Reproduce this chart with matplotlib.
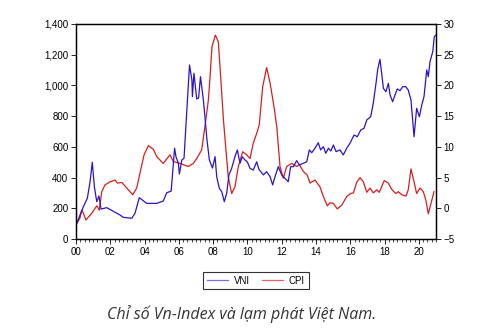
import numpy as np
import matplotlib
matplotlib.use("Agg")
import matplotlib.pyplot as plt
from matplotlib.ticker import FuncFormatter, MultipleLocator

# VN-Index (left axis)
vni_t = [2000.00, 2000.43, 2000.66, 2000.82, 2000.95, 2001.07, 2001.21, 2001.34, 2001.46, 2001.79,
         2002.28, 2002.57, 2002.76, 2003.25, 2003.44, 2003.69, 2004.12, 2004.71, 2005.09, 2005.29,
         2005.55, 2005.75, 2005.83, 2005.97, 2006.03, 2006.17, 2006.30, 2006.62, 2006.76, 2006.79,
         2006.88, 2007.04, 2007.15, 2007.26, 2007.43, 2007.52, 2007.64, 2007.78, 2007.96, 2008.11,
         2008.21, 2008.36, 2008.50, 2008.65, 2008.79, 2008.92, 2009.08, 2009.27, 2009.41, 2009.57,
         2009.70, 2009.86, 2010.00, 2010.15, 2010.34, 2010.54, 2010.67, 2010.93, 2011.12, 2011.32,
         2011.47, 2011.61, 2011.80, 2012.00, 2012.19, 2012.38, 2012.52, 2012.68, 2012.87, 2013.03,
         2013.26, 2013.46, 2013.61, 2013.75, 2013.94, 2014.13, 2014.27, 2014.43, 2014.57, 2014.72,
         2014.87, 2015.01, 2015.17, 2015.40, 2015.59, 2015.79, 2015.98, 2016.22, 2016.41, 2016.61,
         2016.80, 2016.96, 2017.19, 2017.34, 2017.50, 2017.60, 2017.73, 2017.83, 2017.93, 2018.08,
         2018.22, 2018.32, 2018.47, 2018.61, 2018.74, 2018.90, 2019.06, 2019.23, 2019.38, 2019.54,
         2019.72, 2019.87, 2020.03, 2020.17, 2020.30, 2020.46, 2020.55, 2020.65, 2020.81, 2020.90,
         2021.00]
vni = [91, 210, 265, 373, 500, 341, 243, 280, 195, 204,
       174, 156, 141, 135, 167, 269, 232, 232, 247, 301,
       312, 591, 536, 493, 423, 514, 525, 1133, 1035, 927,
       1079, 912, 918, 1057, 905, 796, 645, 514, 462, 536,
       404, 330, 308, 243, 298, 417, 460, 536, 580, 493,
       536, 514, 501, 460, 449, 503, 454, 417, 438, 406,
       352, 406, 471, 417, 395, 373, 471, 471, 510, 482,
       493, 503, 580, 562, 591, 627, 580, 601, 558, 591,
       573, 612, 569, 580, 547, 591, 623, 677, 666, 710,
       721, 775, 796, 884, 1014, 1105, 1170, 1079, 981, 959,
       1014, 938, 894, 938, 977, 966, 992, 992, 970, 905,
       666, 851, 796, 873, 927, 1101, 1057, 1155, 1220, 1317,
       1328]

# CPI inflation, % (right axis)
cpi_t = [2000.00, 2000.23, 2000.33, 2000.43, 2000.58, 2000.92, 2001.21, 2001.36, 2001.50, 2001.69,
         2001.98, 2002.28, 2002.41, 2002.67, 2002.96, 2003.31, 2003.54, 2003.73, 2003.97, 2004.22,
         2004.51, 2004.71, 2005.09, 2005.48, 2005.68, 2006.07, 2006.55, 2006.84, 2007.04, 2007.33,
         2007.52, 2007.72, 2007.82, 2007.93, 2008.13, 2008.30, 2008.42, 2008.60, 2008.88, 2009.08,
         2009.27, 2009.47, 2009.72, 2009.96, 2010.15, 2010.34, 2010.54, 2010.69, 2010.89, 2011.12,
         2011.32, 2011.55, 2011.71, 2011.90, 2012.09, 2012.29, 2012.58, 2012.87, 2013.03, 2013.26,
         2013.49, 2013.65, 2013.94, 2014.23, 2014.43, 2014.66, 2014.81, 2015.01, 2015.24, 2015.50,
         2015.79, 2016.02, 2016.18, 2016.37, 2016.57, 2016.76, 2016.96, 2017.15, 2017.34, 2017.54,
         2017.69, 2017.98, 2018.22, 2018.41, 2018.65, 2018.80, 2019.00, 2019.25, 2019.38, 2019.54,
         2019.72, 2019.87, 2020.07, 2020.26, 2020.40, 2020.55, 2020.71, 2020.88]
cpi = [-2.7, -1.6, -0.3, -0.8, -1.9, -0.8, 0.4, -0.3, 2.7, 3.8,
       4.3, 4.6, 4.1, 4.2, 3.3, 2.2, 3.3, 5.7, 8.7, 10.2,
       9.6, 8.4, 7.3, 8.7, 7.6, 7.3, 6.8, 7.3, 8.1, 9.5,
       13.3, 17.6, 21.4, 26.3, 28.2, 27.1, 22.2, 14.4, 5.1, 2.4,
       3.5, 6.8, 9.2, 8.7, 8.1, 10.6, 12.2, 13.6, 19.8, 22.9,
       20.4, 16.5, 13.3, 6.8, 4.9, 6.8, 7.3, 6.8, 7.1, 6.0,
       5.4, 4.1, 4.6, 3.5, 1.9, 0.4, 0.9, 0.8, -0.1, 0.5,
       1.9, 2.4, 2.5, 4.2, 5.0, 4.3, 2.6, 3.3, 2.5, 3.0,
       2.6, 4.5, 4.1, 3.1, 2.4, 2.7, 2.2, 2.0, 3.0, 6.4,
       4.3, 2.4, 3.3, 2.7, 1.4, -0.9, 0.8, 2.7]

blue = "#2c14c4"
red = "#d81e1e"

plt.rcParams['font.family'] = ['Liberation Sans', 'DejaVu Sans']

fig = plt.figure(figsize=(4.92, 3.30), dpi=100)
ax = fig.add_axes([0.1545, 0.2758, 0.7317, 0.6515])
ax2 = ax.twinx()

l1, = ax.plot(vni_t, vni, color=blue, lw=0.9)
l2, = ax2.plot(cpi_t, cpi, color=red, lw=0.9)
ax.set_zorder(ax2.get_zorder() + 1)
ax.patch.set_visible(False)

ax.set_xlim(2000, 2021)
ax.set_ylim(0, 1400)
ax2.set_ylim(-5, 30)
ax.yaxis.set_major_locator(MultipleLocator(200))
ax.yaxis.set_major_formatter(FuncFormatter(lambda v, p: f"{int(v):,}"))
ax2.yaxis.set_major_locator(MultipleLocator(5))
ax.xaxis.set_major_locator(MultipleLocator(2))
ax.xaxis.set_minor_locator(MultipleLocator(0.25))
ax.xaxis.set_major_formatter(FuncFormatter(lambda v, p: f"{int(round(v)) % 100:02d}"))

for a in (ax, ax2):
    a.tick_params(which='major', length=3.5, width=0.6, labelsize=7, pad=2, colors='black')
    a.tick_params(which='minor', length=2, width=0.5)
    for s in a.spines.values():
        s.set_linewidth(0.9)

leg = fig.legend([l1, l2], ["VNI", "CPI"], loc='center', bbox_to_anchor=(0.52, 0.15),
                 ncol=2, fontsize=7, frameon=True, fancybox=False, handlelength=2.2,
                 columnspacing=1.2, handletextpad=0.6, borderpad=0.4)
leg.get_frame().set_edgecolor('black')
leg.get_frame().set_linewidth(0.8)
leg.legend_handles[0].set_color("#7a6ee6")
leg.legend_handles[1].set_color("#f0606a")

fig.text(0.492, 0.048, "Chỉ số Vn-Index và lạm phát Việt Nam.", ha='center', va='center',
         fontsize=11.5, style='italic', color='#333333', family=['Open Sans', 'DejaVu Sans'])

fig.savefig("out.png", dpi=100)
